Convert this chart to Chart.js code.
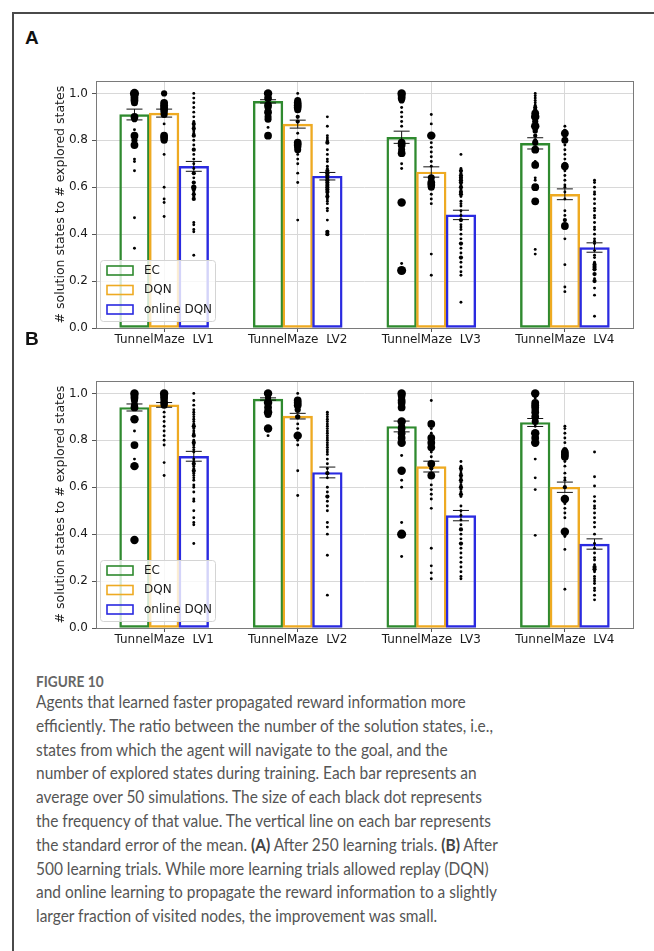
<!DOCTYPE html>
<html>
<head>
<meta charset="utf-8">
<script src="https://cdn.jsdelivr.net/npm/chart.js@4.4.1/dist/chart.umd.min.js"></script>
<style>
  body { margin: 0; background: #fff; }
  #page { position: relative; width: 654px; height: 951px; overflow: hidden; background: #fff; }
  #frame { position: absolute; left: 12px; top: 12px; right: 0; bottom: 0; border-left: 2px solid #4a4a4a; border-top: 2px solid #4a4a4a; }
  .panel { position: absolute; left: 25px; font: bold 19px "Liberation Sans", Arial, sans-serif; color: #111; line-height: 20px; }
  canvas { position: absolute; left: 13px; }
  #cap { position: absolute; left: 36px; top: 672px; color: #555; font-family: Lato, "Open Sans", sans-serif; font-size: 17px; transform-origin: 0 0; }
  .fig { font-weight: bold; font-size: 15px; color: #666; line-height: 18px; }
  .ln { white-space: nowrap; line-height: 23.8px; }
  .ln b { font-weight: bold; color: #444; }
</style>
</head>
<body>
<div id="page">
  <div id="frame"></div>
  <div class="panel" style="top:28px">A</div>
  <canvas id="chartA" width="641" height="280" style="top:70px"></canvas>
  <div class="panel" style="top:329px">B</div>
  <canvas id="chartB" width="641" height="280" style="top:370px"></canvas>
  <div id="cap">
    <div class="fig">FIGURE 10</div>
    <div class="ln"><span>Agents that learned faster propagated reward information more</span></div>
    <div class="ln"><span>efficiently. The ratio between the number of the solution states, i.e.,</span></div>
    <div class="ln"><span>states from which the agent will navigate to the goal, and the</span></div>
    <div class="ln"><span>number of explored states during training. Each bar represents an</span></div>
    <div class="ln"><span>average over 50 simulations. The size of each black dot represents</span></div>
    <div class="ln"><span>the frequency of that value. The vertical line on each bar represents</span></div>
    <div class="ln"><span>the standard error of the mean. <b>(A)</b> After 250 learning trials. <b>(B)</b> After</span></div>
    <div class="ln"><span>500 learning trials. While more learning trials allowed replay (DQN)</span></div>
    <div class="ln"><span id="longest">and online learning to propagate the reward information to a slightly</span></div>
    <div class="ln"><span>larger fraction of visited nodes, the improvement was small.</span></div>
  </div>
</div>
<script>
// categories / ticks
const groups = ['TunnelMaze  LV1', 'TunnelMaze  LV2', 'TunnelMaze  LV3', 'TunnelMaze  LV4'];
const seriesNames = ['EC', 'DQN', 'online DQN'];
const yTicks = [0, 0.2, 0.4, 0.6, 0.8, 1.0];

// panel A: after 250 trials
const ecMeanA = [0.910, 0.966, 0.813, 0.787];
const dqnMeanA = [0.916, 0.869, 0.665, 0.570];
const onlineMeanA = [0.689, 0.647, 0.482, 0.343];
const ecSemA = [0.023, 0.007, 0.026, 0.024];
const dqnSemA = [0.017, 0.017, 0.022, 0.023];
const onlineSemA = [0.021, 0.016, 0.020, 0.020];

// panel B: after 500 trials
const ecMeanB = [0.940, 0.976, 0.859, 0.876];
const dqnMeanB = [0.951, 0.903, 0.688, 0.600];
const onlineMeanB = [0.732, 0.663, 0.479, 0.358];
const ecSemB = [0.015, 0.005, 0.023, 0.017];
const dqnSemB = [0.010, 0.012, 0.023, 0.022];
const onlineSemB = [0.021, 0.023, 0.022, 0.022];

// dots: [value, frequency] per group
const ecDotsA = [
  [[1.0,8],[0.99,6],[0.98,6],[0.97,6],[0.96,5],[0.9,6],[0.89,4],[0.845,1],[0.82,6],[0.8,4],[0.78,6],[0.72,1],[0.71,1],[0.67,1],[0.47,1],[0.34,1]],
  [[1.0,7],[0.98,6],[0.95,6],[0.94,5],[0.92,6],[0.9,5],[0.89,5],[0.855,1],[0.82,6]],
  [[1.0,7],[0.99,6],[0.98,6],[0.97,4],[0.94,1],[0.92,1],[0.9,1],[0.88,1],[0.86,1],[0.79,6],[0.78,6],[0.76,5],[0.745,6],[0.7,1],[0.68,1],[0.535,7],[0.275,1],[0.245,8]],
  [[1.0,1],[0.99,1],[0.98,1],[0.97,1],[0.96,1],[0.95,1],[0.94,2],[0.93,2],[0.915,6],[0.9,7],[0.88,4],[0.86,7],[0.84,3],[0.82,2],[0.8,2],[0.79,4],[0.76,6],[0.71,1],[0.695,6],[0.64,1],[0.63,1],[0.6,6],[0.54,6],[0.335,1],[0.315,1]]
];
const dqnDotsA = [
  [[1.0,4],[0.96,6],[0.95,6],[0.94,6],[0.93,6],[0.92,5],[0.91,5],[0.87,1],[0.82,6],[0.81,6],[0.8,5],[0.74,1],[0.6,1],[0.55,1],[0.535,1],[0.475,1]],
  [[1.0,1],[0.97,5],[0.96,6],[0.95,6],[0.94,6],[0.93,5],[0.9,2],[0.88,2],[0.83,1],[0.79,6],[0.78,6],[0.77,5],[0.76,5],[0.74,1],[0.72,1],[0.7,1],[0.66,1],[0.62,1],[0.46,1]],
  [[0.91,1],[0.87,1],[0.82,7],[0.79,1],[0.77,1],[0.75,1],[0.73,1],[0.71,1],[0.69,1],[0.64,5],[0.62,6],[0.61,6],[0.6,5],[0.57,1],[0.55,1],[0.53,1],[0.315,1],[0.225,1]],
  [[0.86,1],[0.84,2],[0.83,6],[0.8,5],[0.78,1],[0.76,1],[0.74,1],[0.72,1],[0.7,2],[0.69,6],[0.67,1],[0.65,1],[0.63,1],[0.61,1],[0.6,1],[0.58,1],[0.55,1],[0.5,1],[0.48,1],[0.46,2],[0.435,6],[0.43,3],[0.38,1],[0.27,1],[0.175,1],[0.155,1]]
];
const onlineDotsA = [
  [[1.0,1],[0.98,1],[0.96,1],[0.94,1],[0.92,1],[0.9,1],[0.88,1],[0.87,2],[0.86,1],[0.85,2],[0.84,1],[0.83,1],[0.82,2],[0.8,1],[0.78,1],[0.76,2],[0.74,1],[0.72,1],[0.7,1],[0.68,1],[0.66,2],[0.64,1],[0.62,2],[0.6,3],[0.59,2],[0.58,1],[0.57,2],[0.56,1],[0.55,2],[0.45,1],[0.44,1],[0.42,1],[0.41,1],[0.31,1]],
  [[0.9,1],[0.86,1],[0.82,1],[0.81,1],[0.8,1],[0.79,2],[0.76,1],[0.74,1],[0.72,1],[0.71,1],[0.69,1],[0.68,1],[0.67,2],[0.66,2],[0.65,2],[0.64,2],[0.63,2],[0.62,2],[0.61,2],[0.6,2],[0.59,2],[0.58,2],[0.57,1],[0.56,2],[0.55,1],[0.54,1],[0.53,1],[0.51,1],[0.5,1],[0.46,1],[0.41,2],[0.4,2]],
  [[0.74,1],[0.68,1],[0.67,2],[0.66,1],[0.65,2],[0.64,2],[0.63,2],[0.62,2],[0.61,1],[0.6,2],[0.59,1],[0.58,2],[0.57,2],[0.56,1],[0.54,1],[0.53,1],[0.52,1],[0.5,1],[0.48,1],[0.46,2],[0.44,1],[0.43,1],[0.42,1],[0.4,1],[0.38,1],[0.36,2],[0.34,1],[0.32,1],[0.3,2],[0.28,1],[0.26,1],[0.24,1],[0.225,1],[0.11,1]],
  [[0.63,1],[0.62,1],[0.6,1],[0.58,1],[0.57,1],[0.55,1],[0.53,1],[0.51,1],[0.5,1],[0.48,1],[0.47,1],[0.45,1],[0.43,1],[0.42,1],[0.4,1],[0.38,1],[0.37,1],[0.36,1],[0.33,1],[0.31,1],[0.3,1],[0.28,1],[0.27,2],[0.26,2],[0.25,2],[0.23,2],[0.21,1],[0.2,2],[0.17,1],[0.14,1],[0.05,1]]
];
const ecDotsB = [
  [[1.0,7],[0.99,6],[0.98,6],[0.97,5],[0.95,5],[0.94,6],[0.89,7],[0.84,1],[0.78,6],[0.72,1],[0.69,7],[0.375,7]],
  [[1.0,7],[0.98,4],[0.96,7],[0.94,6],[0.92,7],[0.91,5],[0.85,7],[0.82,1]],
  [[1.0,7],[0.99,6],[0.97,6],[0.96,6],[0.94,6],[0.88,7],[0.86,5],[0.85,6],[0.83,6],[0.81,6],[0.79,7],[0.735,1],[0.67,7],[0.63,1],[0.6,1],[0.45,1],[0.4,8],[0.305,1]],
  [[1.0,7],[0.98,1],[0.96,6],[0.95,6],[0.94,6],[0.93,5],[0.92,6],[0.9,6],[0.88,5],[0.86,1],[0.83,7],[0.81,6],[0.79,7],[0.72,1],[0.64,1],[0.59,1],[0.395,1]]
];
const dqnDotsB = [
  [[1.0,7],[0.99,6],[0.98,6],[0.97,5],[0.96,6],[0.95,5],[0.92,1],[0.9,1],[0.88,1],[0.86,1],[0.84,1],[0.82,1],[0.8,1],[0.78,1],[0.705,1],[0.65,1]],
  [[1.0,1],[0.97,6],[0.96,6],[0.95,6],[0.93,4],[0.9,3],[0.87,1],[0.85,1],[0.82,7],[0.8,1],[0.78,1],[0.67,1],[0.565,1]],
  [[0.97,1],[0.87,6],[0.85,1],[0.83,1],[0.81,6],[0.79,6],[0.77,6],[0.75,1],[0.73,1],[0.7,6],[0.68,2],[0.65,6],[0.61,1],[0.59,1],[0.57,1],[0.55,1],[0.51,1],[0.34,1],[0.265,1],[0.235,1],[0.21,1]],
  [[0.86,1],[0.85,1],[0.83,1],[0.81,1],[0.79,1],[0.76,3],[0.75,6],[0.74,6],[0.73,6],[0.71,1],[0.69,1],[0.66,1],[0.64,1],[0.63,1],[0.6,2],[0.55,7],[0.53,1],[0.51,1],[0.49,1],[0.47,1],[0.41,7],[0.39,1],[0.335,1],[0.165,1]]
];
const onlineDotsB = [
  [[1.0,1],[0.97,1],[0.95,1],[0.93,1],[0.92,1],[0.91,1],[0.9,1],[0.89,1],[0.88,1],[0.87,1],[0.86,2],[0.85,1],[0.84,1],[0.83,1],[0.82,2],[0.8,1],[0.79,2],[0.78,1],[0.77,1],[0.76,1],[0.75,1],[0.72,1],[0.71,1],[0.7,2],[0.69,1],[0.68,1],[0.67,2],[0.66,1],[0.65,1],[0.64,1],[0.63,1],[0.61,1],[0.6,1],[0.58,1],[0.55,1],[0.54,1],[0.5,1],[0.47,1],[0.45,1],[0.44,1],[0.36,1]],
  [[0.92,1],[0.91,1],[0.9,1],[0.89,1],[0.88,1],[0.87,1],[0.86,1],[0.85,1],[0.84,1],[0.83,1],[0.82,1],[0.81,1],[0.8,1],[0.79,1],[0.78,1],[0.77,1],[0.76,1],[0.75,1],[0.74,1],[0.72,1],[0.7,1],[0.68,1],[0.66,2],[0.64,1],[0.6,1],[0.58,1],[0.56,2],[0.54,1],[0.52,1],[0.5,1],[0.45,1],[0.43,1],[0.4,1],[0.31,1],[0.14,1]],
  [[0.71,1],[0.69,1],[0.68,2],[0.67,1],[0.66,1],[0.65,2],[0.64,1],[0.63,2],[0.62,1],[0.61,1],[0.6,2],[0.59,1],[0.58,1],[0.57,2],[0.56,1],[0.52,1],[0.5,1],[0.48,1],[0.46,1],[0.44,1],[0.42,2],[0.4,1],[0.38,1],[0.36,2],[0.34,1],[0.32,1],[0.3,1],[0.28,1],[0.26,1],[0.24,1],[0.22,1],[0.21,1]],
  [[0.75,1],[0.645,1],[0.605,1],[0.56,1],[0.54,1],[0.52,1],[0.51,1],[0.49,1],[0.47,1],[0.45,1],[0.43,1],[0.4,1],[0.36,1],[0.34,1],[0.32,1],[0.3,1],[0.29,1],[0.27,1],[0.26,2],[0.25,2],[0.24,1],[0.22,1],[0.21,1],[0.2,1],[0.19,1],[0.17,1],[0.16,1],[0.14,1],[0.12,1]]
];

const colors = ['#2f8a2f', '#eeaa22', '#2a2ae0'];
const BAR_STEP = 0.222;   // bar width and spacing inside a group, in category units
const tickFont = { family: '"DejaVu Sans", sans-serif', size: 12 };
const titleFont = { family: '"DejaVu Sans", sans-serif', size: 12.5 };

function dotRadius(count) {
    return 1.45 * Math.pow(count, 0.55);
}

// black error bars on top of each bar
const errorBars = {
    id: 'errorBars',
    afterDatasetDraw(chart, args) {
        const ds = chart.data.datasets[args.index];
        if (ds.type !== 'bar') return;
        const { ctx } = chart;
        const y = chart.scales.y;
        ctx.save();
        ctx.strokeStyle = '#111';
        ctx.lineWidth = 1;
        args.meta.data.forEach((bar, i) => {
            const hi = y.getPixelForValue(ds.data[i].y + ds.sem[i]);
            const lo = y.getPixelForValue(ds.data[i].y - ds.sem[i]);
            ctx.beginPath();
            ctx.moveTo(bar.x, hi); ctx.lineTo(bar.x, lo);
            ctx.moveTo(bar.x - 8, hi); ctx.lineTo(bar.x + 8, hi);
            ctx.moveTo(bar.x - 8, lo); ctx.lineTo(bar.x + 8, lo);
            ctx.stroke();
        });
        ctx.restore();
    }
};

// axes box on all four sides
const axesBox = {
    id: 'axesBox',
    afterDatasetsDraw(chart) {
        const { ctx, chartArea: a } = chart;
        ctx.save();
        ctx.strokeStyle = '#7a7a7a';
        ctx.lineWidth = 1;
        ctx.strokeRect(Math.round(a.left) + 0.5, Math.round(a.top) + 0.5, Math.round(a.right - a.left), Math.round(a.bottom - a.top));
        ctx.restore();
    }
};

// legend drawn inside the plot, lower left
const innerLegend = {
    id: 'innerLegend',
    afterDraw(chart) {
        const { ctx, chartArea: a } = chart;
        const bars = chart.data.datasets.filter(d => d.type === 'bar');
        const x0 = a.left + 4, w = 115, h = 61, y0 = a.bottom - 68;
        ctx.save();
        ctx.fillStyle = 'rgba(255,255,255,0.8)';
        ctx.strokeStyle = '#d4d4d4';
        ctx.lineWidth = 1;
        ctx.beginPath();
        ctx.roundRect(x0 + 0.5, y0 + 0.5, w, h, 3);
        ctx.fill();
        ctx.stroke();
        ctx.font = '12px "DejaVu Sans", sans-serif';
        ctx.textBaseline = 'middle';
        bars.forEach((d, k) => {
            const cy = y0 + 10.5 + k * 19.5;
            ctx.strokeStyle = d.borderColor;
            ctx.lineWidth = 1.6;
            ctx.strokeRect(x0 + 7, cy - 4.5, 26, 9);
            ctx.fillStyle = '#1a1a1a';
            ctx.fillText(d.label, x0 + 44, cy);
        });
        ctx.restore();
    }
};

function buildPanel(id, means, sems, dots) {
    const datasets = [];
    seriesNames.forEach((name, k) => {
        const off = (k - 1) * BAR_STEP;
        datasets.push({
            type: 'scatter',
            label: name + ' runs',
            order: 0,
            data: dots[k].flatMap((grp, i) => grp.map(([v, c]) => ({ x: i + off, y: v, c: c }))),
            pointRadius: (ctx) => (ctx.raw ? dotRadius(ctx.raw.c) : 1),
            pointBackgroundColor: '#000',
            pointBorderWidth: 0,
            showLine: false,
        });
    });
    seriesNames.forEach((name, k) => {
        const off = (k - 1) * BAR_STEP;
        datasets.push({
            type: 'bar',
            label: name,
            order: 3 - k,          // EC drawn first, online DQN last
            sem: sems[k],
            data: means[k].map((v, i) => ({ x: i + off, y: v })),
            backgroundColor: 'rgba(255,255,255,0)',
            borderColor: colors[k],
            borderWidth: 1.8,
            borderSkipped: false,
            grouped: false,
            categoryPercentage: 1,
            barPercentage: 1,
        });
    });

    return new Chart(document.getElementById(id), {
        type: 'bar',
        data: { datasets },
        options: {
            responsive: false,
            animation: false,
            devicePixelRatio: 1,
            layout: { padding: { top: 9, right: 21, bottom: 0, left: 0 } },
            plugins: { legend: { display: false }, tooltip: { enabled: false } },
            scales: {
                x: {
                    type: 'linear',
                    offset: false,
                    min: -0.51,
                    max: 3.51,
                    afterBuildTicks: (s) => { s.ticks = groups.map((g, i) => ({ value: i })); },
                    afterFit: (s) => { s.height = 22; },
                    ticks: {
                        callback: (v) => groups[v],
                        font: tickFont,
                        color: '#1a1a1a',
                        maxRotation: 0,
                        autoSkip: false,
                        padding: 1,
                    },
                    grid: { offset: false, color: '#d8d8d8', tickColor: '#555', tickLength: 4 },
                    border: { display: false },
                },
                y: {
                    min: 0,
                    max: 1.052,
                    afterBuildTicks: (s) => { s.ticks = yTicks.map(v => ({ value: v })); },
                    afterFit: (s) => { s.width = 83; },
                    ticks: {
                        callback: (v) => v.toFixed(1),
                        font: tickFont,
                        color: '#1a1a1a',
                        padding: 4,
                    },
                    grid: { color: '#d8d8d8', tickColor: '#555', tickLength: 4 },
                    border: { display: false },
                    title: {
                        display: true,
                        text: '# solution states to # explored states',
                        font: titleFont,
                        color: '#1a1a1a',
                        padding: { top: 40, bottom: 0 },
                    },
                },
            },
        },
        plugins: [errorBars, axesBox, innerLegend],
    });
}

buildPanel('chartA', [ecMeanA, dqnMeanA, onlineMeanA], [ecSemA, dqnSemA, onlineSemA], [ecDotsA, dqnDotsA, onlineDotsA]);
buildPanel('chartB', [ecMeanB, dqnMeanB, onlineMeanB], [ecSemB, dqnSemB, onlineSemB], [ecDotsB, dqnDotsB, onlineDotsB]);

// the caption type is narrow in the figure: squeeze it so the longest line spans the same width
const cap = document.getElementById('cap');
const w = document.getElementById('longest').getBoundingClientRect().width;
cap.style.transform = 'scaleX(' + (461 / w).toFixed(4) + ')';
</script>
</body>
</html>
